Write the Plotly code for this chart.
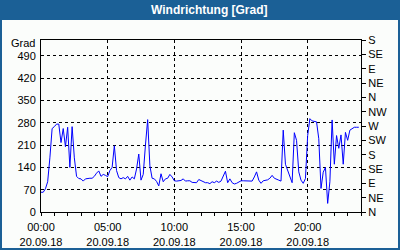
import pandas as pd
import plotly.graph_objects as go

# ---- data ----
start_time = "2018-09-20 00:00"
step = "10min"
wind_dir = [
    62, 62, 73, 95, 170, 262, 268, 276, 276, 218,
    262, 205, 266, 140, 268, 170, 112, 105, 104, 97,
    104, 106, 106, 106, 112, 122, 129, 112, 118, 115,
    111, 130, 140, 208, 130, 108, 104, 108, 104, 112,
    100, 110, 104, 135, 182, 100, 118, 210, 290, 145,
    106, 104, 96, 82, 120, 95, 104, 106, 118, 110,
    98, 97, 98, 99, 104, 97, 98, 98, 93, 92,
    92, 102, 98, 94, 92, 92, 89, 95, 92, 97,
    93, 97, 115, 128, 92, 104, 92, 88, 90, 95,
    98, 98, 98, 97, 97, 97, 110, 126, 100, 90,
    98, 100, 101, 106, 115, 106, 102, 100, 97, 257,
    150, 130, 110, 92, 249, 225, 126, 100, 90, 105,
    240, 293, 286, 284, 283, 230, 74, 125, 140, 27,
    95, 289, 150, 240, 200, 242, 150, 250, 225, 257,
    262, 266, 266, 266,
]
times = pd.date_range(start_time, periods=len(wind_dir), freq=step)

left_ticks = [0, 70, 140, 210, 280, 350, 420, 490]
right_tickvals = [0, 45, 90, 135, 180, 225, 270, 315, 360, 405, 450, 495, 540]
right_ticktext = ["N", "NE", "E", "SE", "S", "SW", "W", "NW", "N", "NE", "E", "SE", "S"]
y_max = 540
title_text = "Windrichtung [Grad]"
unit_text = "Grad"

# ---- figure ----
W, H = 400, 250
L, R, T, B = 41, 39, 40, 38
pw, ph = W - L - R, H - T - B

def px_x(x):
    return (x - L) / pw

def px_y(y):
    return (H - B - y) / ph

BLUE = "#1b6096"
BG = "#fbfdfb"
FONT = "Liberation Sans, Arial, sans-serif"

fig = go.Figure()
fig.add_trace(go.Scatter(x=times, y=wind_dir, mode="lines",
                         line=dict(color="#0000ff", width=1),
                         showlegend=False, hoverinfo="skip"))
fig.add_trace(go.Scatter(x=times, y=wind_dir, mode="lines", yaxis="y2",
                         line=dict(color="rgba(0,0,0,0)", width=0),
                         showlegend=False, hoverinfo="skip"))

fig.update_layout(
    width=W, height=H,
    margin=dict(l=L, r=R, t=T, b=B, pad=0, autoexpand=False),
    paper_bgcolor=BLUE, plot_bgcolor=BG,
    font=dict(family=FONT, size=11, color="black"),
    xaxis=dict(
        type="date", automargin=False,
        range=[times[0], pd.Timestamp(start_time) + pd.Timedelta(hours=24)],
        tick0=start_time, dtick=5 * 3600000,
        tickformat="%H:%M<br>%d.%m.%y",
        ticks="outside", ticklen=3, tickcolor="black", tickwidth=1,
        ticklabelstandoff=2,
        minor=dict(dtick=3600000, ticks="outside", ticklen=3, tickcolor="black", showgrid=False),
        showgrid=True, gridcolor="black", gridwidth=1, griddash="3px,3px",
        showline=True, linecolor="black", linewidth=1, mirror=True,
        zeroline=False, fixedrange=True,
    ),
    yaxis=dict(
        range=[0, y_max], tickvals=left_ticks, automargin=False,
        ticks="outside", ticklen=2, tickcolor=BG,
        showgrid=True, gridcolor="black", gridwidth=1, griddash="3px,3px",
        showline=True, linecolor="black", linewidth=1, mirror=True,
        zeroline=False, fixedrange=True,
    ),
    yaxis2=dict(
        range=[0, y_max], overlaying="y", side="right", automargin=False,
        tickvals=right_tickvals, ticktext=right_ticktext,
        ticks="outside", ticklen=4, tickcolor="black",
        showgrid=False, showline=True, linecolor="black", linewidth=1,
        zeroline=False, fixedrange=True,
    ),
    shapes=[dict(type="rect", xref="paper", yref="paper", layer="below",
                 x0=px_x(2), x1=px_x(398), y0=px_y(248), y1=px_y(20),
                 fillcolor=BG, line=dict(width=0))],
    annotations=[
        dict(text="<b>" + title_text + "</b>", xref="paper", yref="paper",
             x=px_x(209), y=px_y(10), xanchor="center", yanchor="middle",
             showarrow=False, font=dict(family=FONT, size=12, color="white")),
        dict(text=unit_text, xref="paper", yref="paper",
             x=px_x(37), y=px_y(43), xanchor="right", yanchor="middle",
             showarrow=False, font=dict(family=FONT, size=11, color="black")),
    ],
)

fig.write_html("out.html")
